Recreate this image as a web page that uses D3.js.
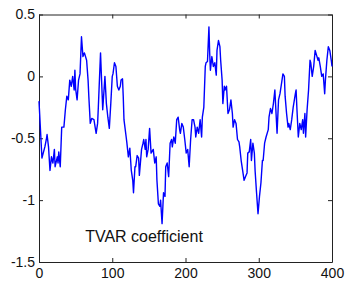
<!DOCTYPE html>
<html>
<head>
<meta charset="utf-8">
<script src="https://cdn.jsdelivr.net/npm/d3@7"></script>
<style>
  body { margin: 0; background: #fff; }
  .axis text { font-family: "Liberation Sans", Arial, sans-serif; font-size: 14px; fill: #111; }
  .axis path, .axis line { stroke: #222; }
  .label { font-family: "Liberation Sans", Arial, sans-serif; font-size: 16px; fill: #111; }
</style>
</head>
<body>
<div id="chart"></div>
<script>
// sample index and TVAR coefficient
var steps = [0,4,8,10,11,13,15,17,19,21,22,25,26,27,29,31,34,36,38,40,42,44,46,48,49,50,52,54,56,58,
  60,62,65,67,68,70,72,75,78,80,81,84,87,90,92,94,96,98,100,101,103,105,107,109,111,112,114,115,116,119,
  120,122,124,126,128,129,131,132,134,136,137,140,142,143,145,146,147,149,151,153,156,158,160,161,163,165,166,168,170,172,
  173,175,177,179,181,182,184,186,188,190,192,193,195,197,199,201,203,205,207,209,211,213,214,216,218,220,222,223,225,227,
  228,230,232,233,234,236,238,240,242,243,245,247,248,250,251,253,254,256,258,260,262,264,265,267,269,271,273,274,276,278,
  280,282,284,285,287,289,290,292,294,295,297,299,301,303,305,306,308,310,313,314,316,318,320,322,325,327,329,331,333,335,
  336,338,340,341,343,345,347,350,351,352,354,356,358,360,361,363,364,366,368,370,371,373,375,377,379,381,382,384,386,388,
  390,391,393,395,397,399,400];
var coef = [-0.20,-0.66,-0.57,-0.51,-0.47,-0.57,-0.76,-0.65,-0.70,-0.59,-0.73,-0.65,-0.70,-0.61,-0.73,-0.41,-0.41,-0.27,-0.16,-0.19,-0.03,-0.08,0.00,-0.11,0.05,-0.10,-0.19,-0.03,0.02,0.32,
  0.16,0.19,0.13,-0.03,-0.16,-0.38,-0.34,-0.35,-0.46,-0.38,-0.25,0.19,-0.27,0.00,-0.22,-0.33,-0.42,-0.22,0.00,0.02,0.11,0.08,-0.08,-0.11,-0.08,-0.03,-0.02,-0.16,-0.35,-0.49,
  -0.54,-0.65,-0.58,-0.76,-0.84,-0.94,-0.73,-0.73,-0.64,-0.66,-0.80,-0.59,-0.54,-0.51,-0.59,-0.51,-0.65,-0.59,-0.42,-0.62,-0.59,-0.70,-0.65,-0.84,-1.03,-1.05,-1.00,-1.19,-0.94,-0.97,
  -0.73,-0.70,-0.81,-0.54,-0.51,-0.57,-0.49,-0.54,-0.35,-0.33,-0.43,-0.46,-0.38,-0.41,-0.51,-0.62,-0.59,-0.73,-0.51,-0.35,-0.35,-0.41,-0.49,-0.41,-0.46,-0.35,-0.49,-0.33,-0.25,0.08,
  0.11,0.12,0.40,0.19,0.05,0.16,0.08,0.11,0.01,0.21,0.29,0.24,0.13,-0.03,-0.22,-0.08,-0.11,-0.08,-0.30,-0.27,-0.19,-0.30,-0.41,-0.35,-0.38,-0.51,-0.53,-0.57,-0.68,-0.76,
  -0.84,-0.81,-0.78,-0.62,-0.61,-0.51,-0.68,-0.54,-0.62,-0.76,-0.94,-1.11,-0.97,-0.86,-0.68,-0.68,-0.54,-0.49,-0.43,-0.33,-0.26,-0.30,-0.22,-0.11,-0.46,-0.19,-0.14,-0.06,0.02,0.00,
  -0.16,-0.30,-0.41,-0.38,-0.43,-0.35,-0.25,-0.14,-0.11,-0.25,-0.49,-0.38,-0.43,-0.35,-0.46,-0.30,-0.49,-0.27,-0.11,0.13,0.11,0.00,0.08,0.21,0.17,0.13,0.15,0.08,0.00,0.02,
  -0.14,-0.03,0.13,0.24,0.21,0.13,0.08];
var xTicks = [0, 100, 200, 300, 400];
var yTicks = [-1.5, -1, -0.5, 0, 0.5];
var labelText = "TVAR coefficient";

var width = 347, height = 282;
var margin = {top: 14.5, right: 15, bottom: 20, left: 39};
var chartWidth = width - margin.left - margin.right;
var chartHeight = height - margin.top - margin.bottom;

var svg = d3.select('#chart').append('svg')
    .attr('width', width)
    .attr('height', height)
  .append('g')
    .attr('transform', `translate(${margin.left}, ${margin.top})`);

var xScale = d3.scaleLinear().domain([0, 400]).range([0, chartWidth]);
var yScale = d3.scaleLinear().domain([-1.5, 0.5]).range([chartHeight, 0]);

// matlab style: ticks point inward, box on all four sides
svg.append('g')
    .attr('class', 'x axis')
    .attr('transform', `translate(0,${chartHeight})`)
    .call(d3.axisBottom(xScale).tickValues(xTicks).tickSizeInner(-4).tickSizeOuter(0).tickPadding(6).tickFormat(d => String(d)));

svg.append('g')
    .attr('class', 'y axis')
    .call(d3.axisLeft(yScale).tickValues(yTicks).tickSizeInner(-4).tickSizeOuter(0).tickPadding(4).tickFormat(d => String(d)));

svg.append('g')
    .attr('class', 'axis')
    .call(d3.axisTop(xScale).tickValues(xTicks).tickSizeInner(-4).tickSizeOuter(0).tickFormat(''));

svg.append('g')
    .attr('class', 'axis')
    .attr('transform', `translate(${chartWidth},0)`)
    .call(d3.axisRight(yScale).tickValues(yTicks).tickSizeInner(-4).tickSizeOuter(0).tickFormat(''));

var line = d3.line()
    .x((d, i) => xScale(steps[i]))
    .y(d => yScale(d));

svg.append('path')
    .datum(coef)
    .attr('fill', 'none')
    .attr('stroke', '#0000ff')
    .attr('stroke-width', 1.4)
    .attr('stroke-linejoin', 'round')
    .attr('d', line);

svg.append('text')
    .attr('class', 'label')
    .attr('x', xScale(63))
    .attr('y', yScale(-1.34))
    .text(labelText);
</script>
</body>
</html>
